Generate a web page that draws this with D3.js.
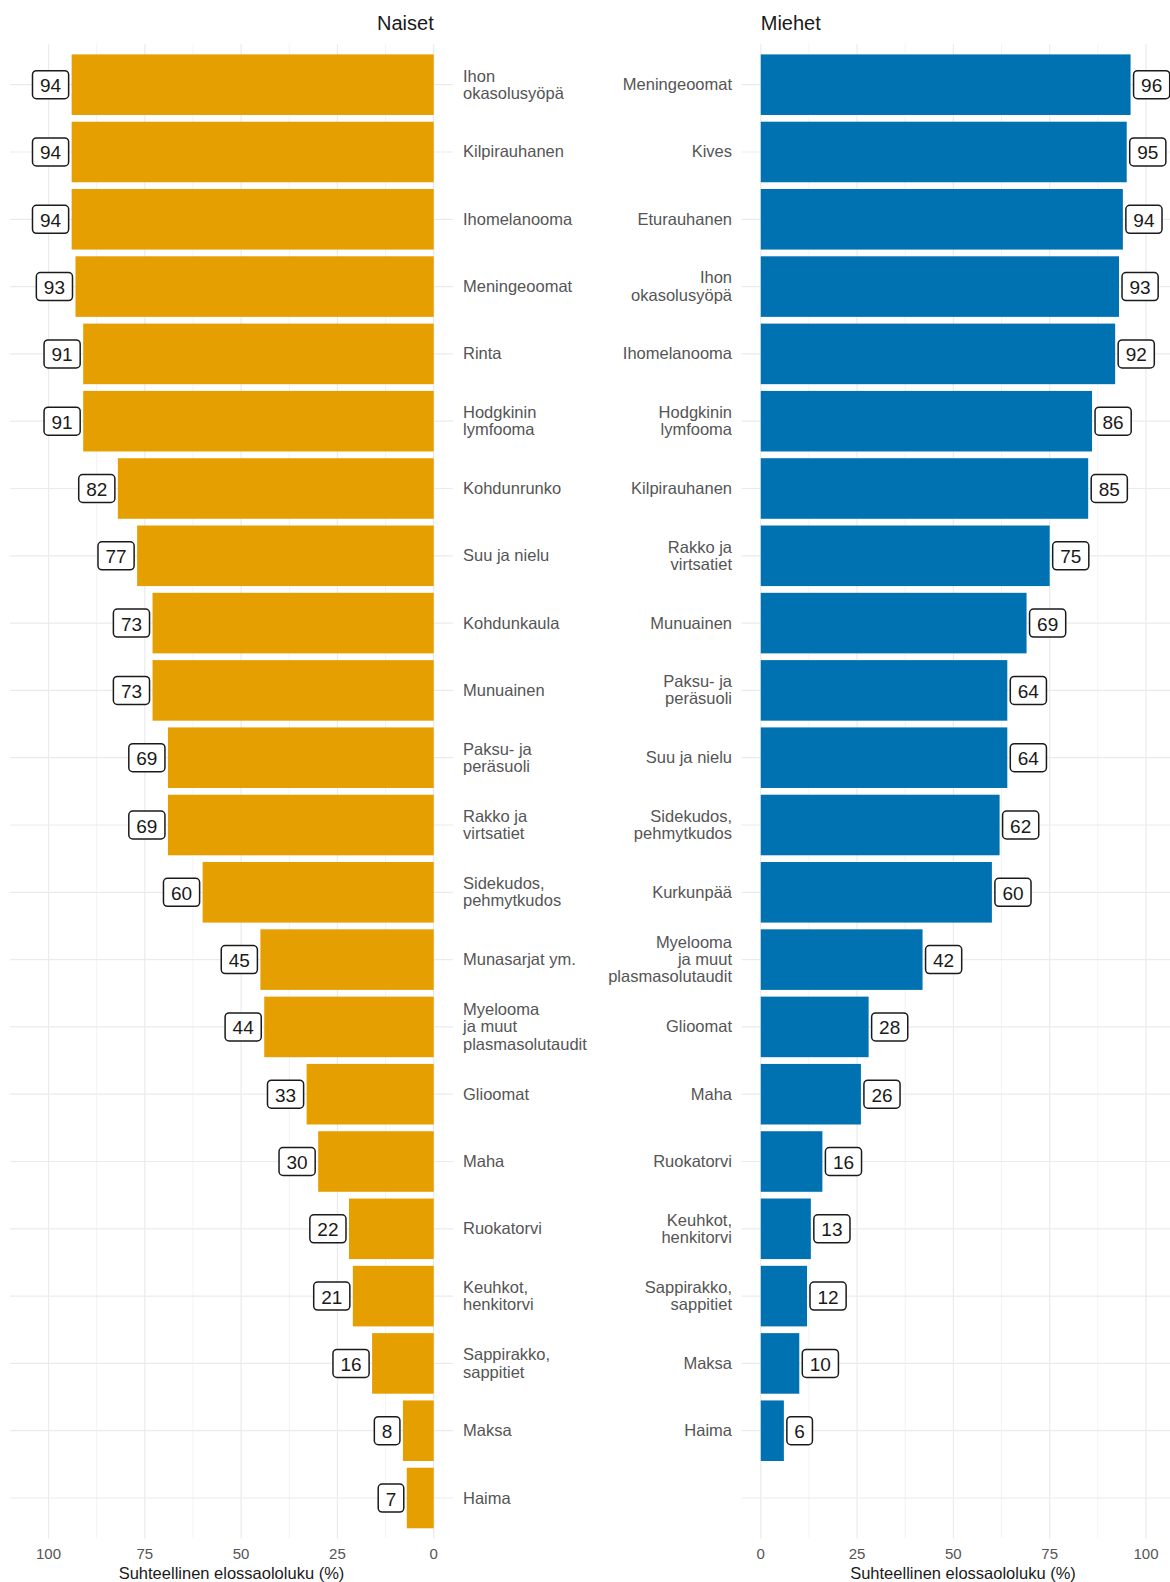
<!DOCTYPE html>
<html>
<head>
<meta charset="utf-8">
<script src="https://cdn.jsdelivr.net/npm/d3@7"></script>
<style>
  body { margin: 0; background: #fff; }
  text { font-family: "Liberation Sans", Arial, sans-serif; }
</style>
</head>
<body>
<svg id="chart" width="1170" height="1582"></svg>
<script>
// Naiset (women), top to bottom
const naisetLabels = ["Ihon\nokasolusyöpä", "Kilpirauhanen", "Ihomelanooma", "Meningeoomat", "Rinta",
  "Hodgkinin\nlymfooma", "Kohdunrunko", "Suu ja nielu", "Kohdunkaula", "Munuainen",
  "Paksu- ja\nperäsuoli", "Rakko ja\nvirtsatiet", "Sidekudos,\npehmytkudos", "Munasarjat ym.",
  "Myelooma\nja muut\nplasmasolutaudit", "Glioomat", "Maha", "Ruokatorvi", "Keuhkot,\nhenkitorvi",
  "Sappirakko,\nsappitiet", "Maksa", "Haima"];
const naisetValues = [94, 94, 94, 93, 91, 91, 82, 77, 73, 73, 69, 69, 60, 45, 44, 33, 30, 22, 21, 16, 8, 7];

// Miehet (men), top to bottom
const miehetLabels = ["Meningeoomat", "Kives", "Eturauhanen", "Ihon\nokasolusyöpä", "Ihomelanooma",
  "Hodgkinin\nlymfooma", "Kilpirauhanen", "Rakko ja\nvirtsatiet", "Munuainen", "Paksu- ja\nperäsuoli",
  "Suu ja nielu", "Sidekudos,\npehmytkudos", "Kurkunpää", "Myelooma\nja muut\nplasmasolutaudit",
  "Glioomat", "Maha", "Ruokatorvi", "Keuhkot,\nhenkitorvi", "Sappirakko,\nsappitiet", "Maksa", "Haima"];
const miehetValues = [96, 95, 94, 93, 92, 86, 85, 75, 69, 64, 64, 62, 60, 42, 28, 26, 16, 13, 12, 10, 6];

const tickValues = [0, 25, 50, 75, 100];
const minorTicks = [12.5, 37.5, 62.5, 87.5];
const axisTitle = "Suhteellinen elossaololuku (%)";

const svg = d3.select("#chart");
const panelTop = 44.3, panelBottom = 1538.4;

// shared row scale, 22 slots
const y = d3.scaleBand().domain(d3.range(22)).range([panelTop, panelBottom])
  .paddingInner(0.1).paddingOuter(0.15);

function drawPanel(opts) {
  const { labels, values, x, color, side, title, labelX } = opts;
  const g = svg.append("g");
  const [px0, px1] = d3.extent(x.range());

  // grid
  g.selectAll(".minor").data(minorTicks).join("line")
    .attr("x1", d => x(d)).attr("x2", d => x(d))
    .attr("y1", panelTop).attr("y2", panelBottom)
    .attr("stroke", "#ebebeb").attr("stroke-width", 0.6);
  g.selectAll(".major").data(tickValues).join("line")
    .attr("x1", d => x(d)).attr("x2", d => x(d))
    .attr("y1", panelTop).attr("y2", panelBottom)
    .attr("stroke", "#ebebeb").attr("stroke-width", 1.2);
  g.selectAll(".hgrid").data(d3.range(22)).join("line")
    .attr("x1", px0).attr("x2", px1)
    .attr("y1", d => y(d) + y.bandwidth() / 2).attr("y2", d => y(d) + y.bandwidth() / 2)
    .attr("stroke", "#ebebeb").attr("stroke-width", 1.2);

  // bars
  g.selectAll(".bar").data(values).join("rect")
    .attr("x", d => Math.min(x(0), x(d)))
    .attr("width", d => Math.abs(x(d) - x(0)))
    .attr("y", (d, i) => y(i))
    .attr("height", y.bandwidth())
    .attr("fill", color);

  // value labels
  const lab = g.selectAll(".vlab").data(values).join("g")
    .attr("transform", (d, i) => `translate(${x(d) + side * 3},${y(i) + y.bandwidth() / 2})`);
  lab.each(function (d) {
    const sel = d3.select(this);
    const t = sel.append("text").text(d)
      .attr("font-size", 19).attr("fill", "#1a1a1a")
      .attr("dominant-baseline", "central").attr("text-anchor", "middle");
    const w = t.node().getComputedTextLength() + 15;
    const cx = side * w / 2;
    t.attr("x", cx).attr("y", 1);
    sel.insert("rect", "text")
      .attr("x", cx - w / 2).attr("y", -14).attr("width", w).attr("height", 28)
      .attr("rx", 4).attr("fill", "#fff").attr("stroke", "#1a1a1a").attr("stroke-width", 1.5);
  });

  // category labels
  g.selectAll(".cat").data(labels).join("text")
    .attr("x", labelX)
    .attr("y", (d, i) => y(i) + y.bandwidth() / 2)
    .attr("text-anchor", side > 0 ? "end" : "start")
    .attr("font-size", 16.5).attr("fill", "#555")
    .each(function (d) {
      const lines = d.split("\n");
      const lh = 17.2;
      d3.select(this).selectAll("tspan").data(lines).join("tspan")
        .attr("x", labelX)
        .attr("dy", (l, k) => k === 0 ? (-(lines.length - 1) * lh / 2 + 5.5) : lh)
        .text(l => l);
    });

  // axis tick labels
  g.selectAll(".tick").data(tickValues).join("text")
    .attr("x", d => x(d)).attr("y", 1559)
    .attr("text-anchor", "middle").attr("font-size", 15).attr("fill", "#555")
    .text(d => d);

  g.append("text")
    .attr("x", (px0 + px1) / 2).attr("y", 1579)
    .attr("text-anchor", "middle").attr("font-size", 16.5).attr("fill", "#1a1a1a")
    .text(axisTitle);

  g.append("text")
    .attr("x", x(0)).attr("y", 30)
    .attr("text-anchor", side > 0 ? "start" : "end")
    .attr("font-size", 20).attr("fill", "#1a1a1a")
    .text(title);
}

const xLeft = d3.scaleLinear().domain([-5, 110]).range([453, 10]);
const xRight = d3.scaleLinear().domain([-5, 110]).range([741.5, 1184.5]);

drawPanel({ labels: naisetLabels, values: naisetValues, x: xLeft, color: "#E69F00",
  side: -1, title: "Naiset", labelX: 463 });
drawPanel({ labels: miehetLabels, values: miehetValues, x: xRight, color: "#0072B2",
  side: 1, title: "Miehet", labelX: 732 });
</script>
</body>
</html>
